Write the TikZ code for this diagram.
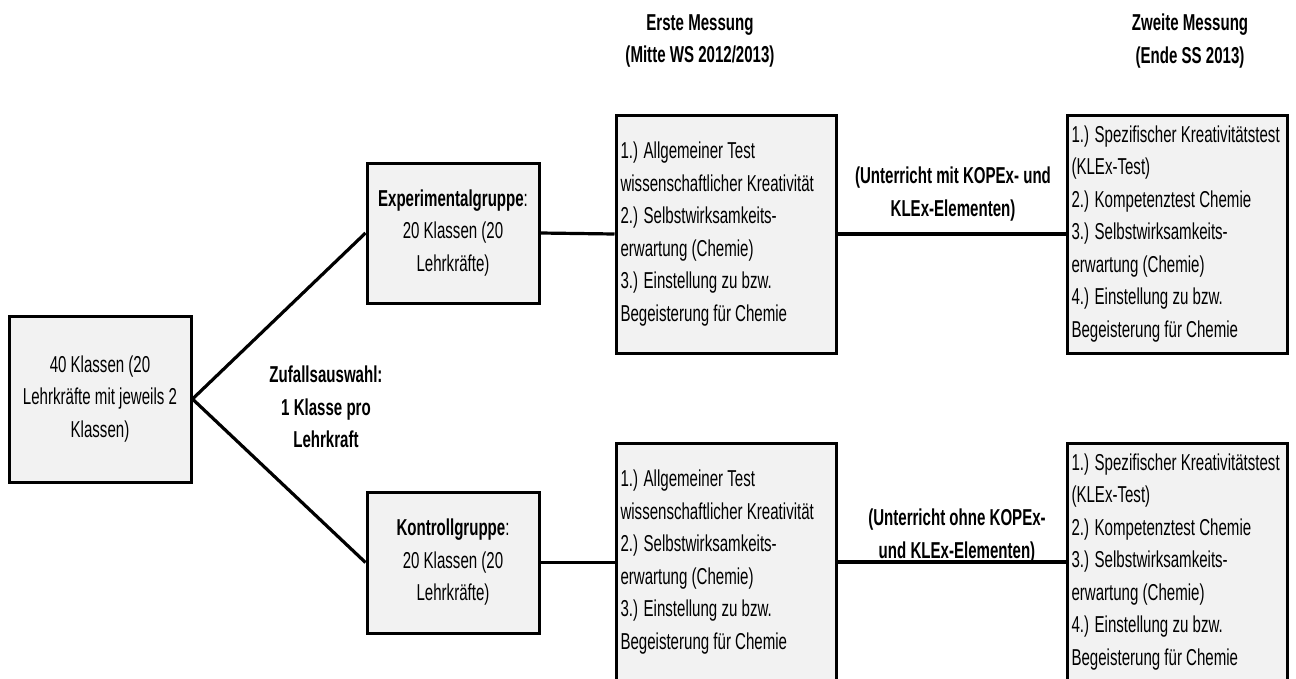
\documentclass[tikz,border=0pt]{standalone}
\usepackage{fontspec}
\setmainfont{Liberation Sans}[FakeStretch=0.655]
\usetikzlibrary{shadows}
\definecolor{boxfill}{HTML}{F2F2F2}
\begin{document}
\begin{tikzpicture}[x=1pt,y=-1pt,
  txt/.style={font=\fontsize{23}{32.5}\selectfont},
  box/.style={draw=black, line width=3pt, fill=boxfill, inner sep=0pt, txt,
    drop shadow={shadow xshift=1.5pt, shadow yshift=-1.5pt, fill=black!65, opacity=1}},
  smallbox/.style={box, minimum width=172pt, minimum height=140pt, align=center},
  listbox/.style={box, minimum width=220pt, minimum height=238pt, text width=211pt, align=flush left},
  conn/.style={line width=3.2pt},
  lbl/.style={font=\bfseries\fontsize{23}{32.5}\selectfont, align=center, inner sep=0pt}]
\useasboundingbox (0,0) rectangle (1296,678);
\clip (0,0) rectangle (1296,678);

% titles
\node[lbl] (t1) at (700,41) {Erste Messung\\(Mitte WS 2012/2013)};
\node[lbl] (t2) at (1190,41) {Zweite Messung\\(Ende SS 2013)};

% start box
\node[box, minimum width=182pt, minimum height=166pt, align=center] (start) at (100,399)
  {40 Klassen (20\\Lehrkräfte mit jeweils 2\\Klassen)};

% groups
\node[smallbox] (exp) at (453,233) {\textbf{Experimentalgruppe}:\\20 Klassen (20\\Lehrkräfte)};
\node[smallbox, minimum height=141pt] (kon) at (453,562.5) {\textbf{Kontrollgruppe}:\\20 Klassen (20\\Lehrkräfte)};

% first measurement boxes
\node[listbox] (m1a) at (726,234) {1.) Allgemeiner Test\\wissenschaftlicher Kreativität\\2.) Selbstwirksamkeits-\\erwartung (Chemie)\\3.) Einstellung zu bzw.\\Begeisterung für Chemie};
\node[listbox] (m1b) at (726,562) {1.) Allgemeiner Test\\wissenschaftlicher Kreativität\\2.) Selbstwirksamkeits-\\erwartung (Chemie)\\3.) Einstellung zu bzw.\\Begeisterung für Chemie};

% second measurement boxes
\node[listbox] (m2a) at (1177,234) {1.) Spezifischer Kreativitätstest\\(KLEx-Test)\\2.) Kompetenztest Chemie\\3.) Selbstwirksamkeits-\\erwartung (Chemie)\\4.) Einstellung zu bzw.\\Begeisterung für Chemie};
\node[listbox] (m2b) at (1177,562) {1.) Spezifischer Kreativitätstest\\(KLEx-Test)\\2.) Kompetenztest Chemie\\3.) Selbstwirksamkeits-\\erwartung (Chemie)\\4.) Einstellung zu bzw.\\Begeisterung für Chemie};

% labels
\node[lbl] (zuf) at (326,407) {Zufallsauswahl:\\1 Klasse pro\\Lehrkraft};
\node[lbl] (u1) at (953,194) {(Unterricht mit KOPEx- und\\KLEx-Elementen)};
\node[lbl] (u2) at (957,536) {(Unterricht ohne KOPEx-\\und KLEx-Elementen)};

% connectors
\draw[conn] (start.east) -- (exp.west);
\draw[conn] (start.east) -- (kon.west);
\draw[conn] (exp.east) -- (m1a.west);
\draw[conn] (kon.east) -- (kon.east -| m1b.west);
\draw[conn] (m1a.east) -- (m2a.west);
\draw[conn] (m1b.east) -- (m2b.west);
\end{tikzpicture}
\end{document}
